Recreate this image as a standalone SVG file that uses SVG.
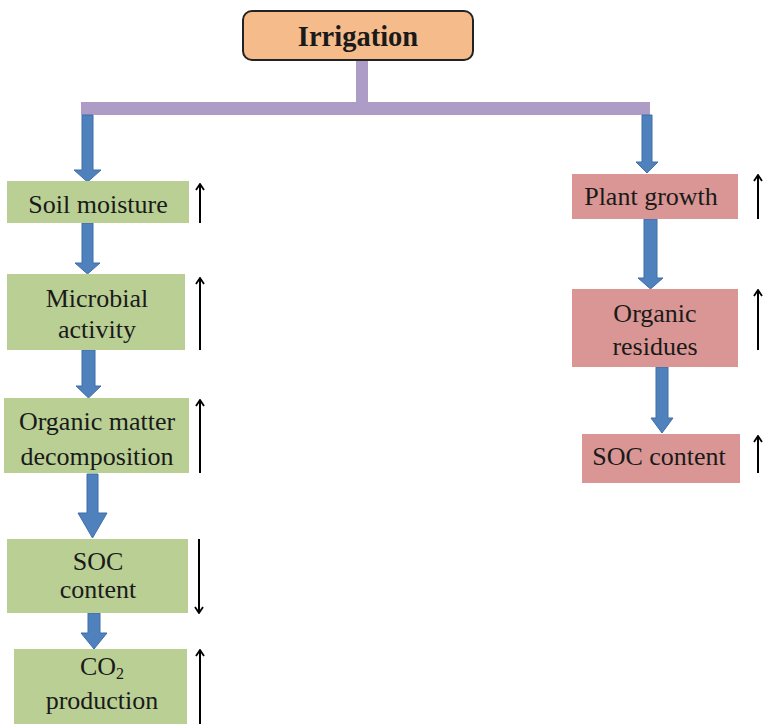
<svg xmlns="http://www.w3.org/2000/svg" width="763" height="724" viewBox="0 0 763 724">
<style>
text{font-family:'Liberation Serif','Times New Roman',Times,serif}
.t{font-size:26px;fill:#1a1a1a;text-anchor:middle}
.g{fill:#b9cf94}
.p{fill:#d99694}
.blk{fill:#4f81bd;stroke:#3f6fa8;stroke-width:1}
.ind{stroke:#000;stroke-width:2;fill:none}
</style>
<defs>
<marker id="ah" viewBox="0 0 10 10" refX="9" refY="5" markerWidth="10" markerHeight="10" markerUnits="userSpaceOnUse" orient="auto">
<path d="M3,1 L9,5 L3,9" fill="none" stroke="#000" stroke-width="1.8"/>
</marker>
</defs>
<rect width="763" height="724" fill="#fff"/>

<g id="connectors">
<rect x="356" y="60" width="12" height="44" fill="#ac9cc6"/>
<rect x="81" y="102" width="569" height="13" fill="#ac9cc6"/>
<polygon class="blk" points="82,115 93,115 93,170 101,170 87.5,182 74,170 82,170"/>
<polygon class="blk" points="82,223 93,223 93,263 100,263 87.5,274 75,263 82,263"/>
<polygon class="blk" points="82,350 95,350 95,386 101,386 88.5,398 76,386 82,386"/>
<polygon class="blk" points="87,474 98,474 98,513 107,513 92.5,538 78,513 87,513"/>
<polygon class="blk" points="88,613 100,613 100,633 107,633 94,649 81,633 88,633"/>
<polygon class="blk" points="642,115 652,115 652,162 658,162 647,173 636,162 642,162"/>
<polygon class="blk" points="644,219 657,219 657,278 663,278 650.5,289 638,278 644,278"/>
<polygon class="blk" points="656,367 668,367 668,418 673,418 662,433 651,418 656,418"/>
<line class="ind" x1="200" y1="223" x2="200" y2="184" marker-end="url(#ah)"/>
<line class="ind" x1="200" y1="350" x2="200" y2="278" marker-end="url(#ah)"/>
<line class="ind" x1="200" y1="473" x2="200" y2="400" marker-end="url(#ah)"/>
<line class="ind" x1="199" y1="539" x2="199" y2="613" marker-end="url(#ah)"/>
<line class="ind" x1="200" y1="724" x2="200" y2="650" marker-end="url(#ah)"/>
<line class="ind" x1="758" y1="219" x2="758" y2="175" marker-end="url(#ah)"/>
<line class="ind" x1="758" y1="350" x2="758" y2="290" marker-end="url(#ah)"/>
<line class="ind" x1="758" y1="473" x2="758" y2="436" marker-end="url(#ah)"/>
</g>

<g id="irrigation">
<rect x="243" y="11" width="230" height="49" rx="9" fill="#f5bb8b" stroke="#222" stroke-width="2"/>
<text class="t" x="358" y="46" style="font-weight:bold;font-size:28.5px">Irrigation</text>
</g>

<g id="soil-moisture">
<rect class="g" x="7" y="181" width="182" height="42"/>
<text class="t" x="98" y="213">Soil moisture</text>
</g>
<g id="microbial-activity">
<rect class="g" x="7" y="274" width="178" height="76"/>
<text class="t" x="97" y="307">Microbial</text>
<text class="t" x="97" y="338">activity</text>
</g>
<g id="om-decomposition">
<rect class="g" x="4" y="398" width="185" height="75"/>
<text class="t" x="97" y="430">Organic matter</text>
<text class="t" x="97" y="465">decomposition</text>
</g>
<g id="soc-left">
<rect class="g" x="7" y="539" width="181" height="74"/>
<text class="t" x="98" y="570">SOC</text>
<text class="t" x="98" y="598">content</text>
</g>
<g id="co2-production">
<rect class="g" x="14" y="649" width="173" height="80"/>
<text class="t" x="102" y="675">CO<tspan font-size="16" dy="4">2</tspan></text>
<text class="t" x="102" y="709">production</text>
</g>

<g id="plant-growth">
<rect class="p" x="572" y="174" width="166" height="45"/>
<text class="t" x="651" y="205">Plant growth</text>
</g>
<g id="organic-residues">
<rect class="p" x="572" y="289" width="166" height="78"/>
<text class="t" x="655" y="322">Organic</text>
<text class="t" x="655" y="355">residues</text>
</g>
<g id="soc-right">
<rect class="p" x="582" y="434" width="158" height="49"/>
<text class="t" x="659" y="465">SOC content</text>
</g>
</svg>
